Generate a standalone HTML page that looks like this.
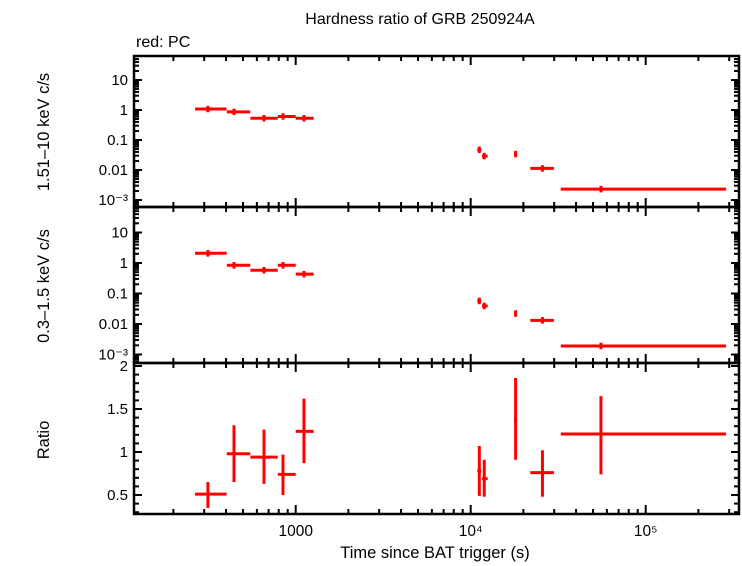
<!DOCTYPE html>
<html><head><meta charset="utf-8"><style>
html,body{margin:0;padding:0;background:#fff}
svg{display:block;font-family:"Liberation Sans",sans-serif}
</style></head><body>
<svg id="c" width="742" height="566" xmlns="http://www.w3.org/2000/svg">
<text x="420" y="24" font-size="16" text-anchor="middle">Hardness ratio of GRB 250924A</text>
<text x="136" y="47" font-size="16">red: PC</text>
<text transform="translate(49,132) rotate(-90)" font-size="16.5" text-anchor="middle">1.51–10 keV c/s</text>
<text transform="translate(49,286) rotate(-90)" font-size="16.5" text-anchor="middle">0.3–1.5 keV c/s</text>
<text transform="translate(49,440) rotate(-90)" font-size="16.5" text-anchor="middle">Ratio</text>
<text x="435" y="558" font-size="16.5" text-anchor="middle">Time since BAT trigger (s)</text>
</svg>
<script>
const tCenter=[315,444,659,846,1115,11200,11950,18060,25700,55500];
const tLo=[266,404,551,790,1000,10900,11600,17700,21900,32700];
const tHi=[403,550,790,1000,1267,11500,12500,18400,29900,288000];
const hardVals=[1.08,0.87,0.53,0.61,0.53,0.047,0.029,0.034,0.0113,0.0023];
const softVals=[2.08,0.84,0.58,0.84,0.43,0.057,0.039,0.022,0.0132,0.0019];
const ratioVals=[0.51,0.98,0.94,0.74,1.24,0.78,0.69,1.38,0.76,1.21];
const ratioLo=[0.35,0.65,0.63,0.50,0.87,0.49,0.48,0.91,0.48,0.74];
const ratioHi=[0.65,1.31,1.26,0.97,1.62,1.07,0.91,1.86,1.02,1.65];
const logTicks=[10,1,0.1,0.01,0.001];
const logTickLabels=["10","1","0.1","0.01","10⁻³"];
const ratioTicks=[0.5,1,1.5,2];
const ratioTickLabels=["0.5","1","1.5","2"];

const svg=document.getElementById('c');
const NS='http://www.w3.org/2000/svg';
const L=134,R=739;
const panels=[{top:56,bot:207},{top:207,bot:363},{top:363,bot:514}];
const x=t=>295.7+175*Math.log10(t/1000);
const yHard=v=>110-30*Math.log10(v);
const ySoft=v=>263-30.5*Math.log10(v);
const yRatio=r=>452-86*(r-1);
function el(tag,attrs){const e=document.createElementNS(NS,tag);for(const k in attrs)e.setAttribute(k,attrs[k]);svg.appendChild(e);return e;}
function line(x1,y1,x2,y2,col,w){return el('line',{x1,y1,x2,y2,stroke:col,'stroke-width':w});}

panels.forEach((p,i)=>{
  const r=el('rect',{x:L,y:p.top,width:R-L,height:p.bot-p.top,fill:'none',stroke:'#000','stroke-width':2.5});
  
  
  for(let d=100;d<=1e6;d*=10){for(let m=1;m<10;m++){const t=d*m;const xx=x(t);if(xx<L||xx>R)continue;const len=m===1?9:5;
    line(xx,p.top,xx,p.top+len,'#000',2);line(xx,p.bot,xx,p.bot-len,'#000',2);}}
});
[[yHard,panels[0]],[ySoft,panels[1]]].forEach(([yf,p],pi)=>{
  for(let e=-4;e<=2;e++){for(let m=1;m<10;m++){const v=m*Math.pow(10,e);const yy=yf(v);if(yy<p.top+1||yy>p.bot-1)continue;const len=m===1?8:5;
    line(L,yy,L+len,yy,'#000',2);line(R,yy,R-len,yy,'#000',2);}}
  logTicks.forEach((v,i)=>{const t=el('text',{x:L-6,y:yf(v)+5,'font-size':15,'text-anchor':'end'});t.textContent=logTickLabels[i];
    
    });
});
for(let r=0.3;r<=2.05;r+=0.1){const yy=yRatio(r);if(yy<363||yy>514)continue;const maj=Math.abs(r*2-Math.round(r*2))<0.01;const len=maj?8:5;
  line(L,yy,L+len,yy,'#000',2);line(R,yy,R-len,yy,'#000',2);}
ratioTicks.forEach((v,i)=>{const t=el('text',{x:L-6,y:yRatio(v)+5,'font-size':15,'text-anchor':'end'});t.textContent=ratioTickLabels[i];
  
  });
const xl=[[1000,"1000"],[1e4,"10⁴"],[1e5,"10⁵"]];
xl.forEach(([t,s])=>{const e=el('text',{x:x(t),y:536,'font-size':15.5,'text-anchor':'middle'});e.textContent=s;
  
  });
function drawPt(yf,xc,xlo,xhi,yc,ylo,yhi,name){
  const g=document.createElementNS(NS,'g');svg.appendChild(g);
  
  
  const a=document.createElementNS(NS,'line');a.setAttribute('x1',x(xlo));a.setAttribute('x2',x(xhi));a.setAttribute('y1',yf(yc));a.setAttribute('y2',yf(yc));a.setAttribute('stroke','#f00');a.setAttribute('stroke-width',3);g.appendChild(a);
  const b=document.createElementNS(NS,'line');b.setAttribute('x1',x(xc));b.setAttribute('x2',x(xc));b.setAttribute('y1',yf(ylo));b.setAttribute('y2',yf(yhi));b.setAttribute('stroke','#f00');b.setAttribute('stroke-width',3);g.appendChild(b);
}
for(let i=0;i<tCenter.length;i++){
  drawPt(yHard,tCenter[i],tLo[i],tHi[i],hardVals[i],hardVals[i]*0.78,hardVals[i]*1.28,'hard-point');
  drawPt(ySoft,tCenter[i],tLo[i],tHi[i],softVals[i],softVals[i]*0.78,softVals[i]*1.28,'soft-point');
  drawPt(yRatio,tCenter[i],tLo[i],tHi[i],ratioVals[i],ratioLo[i],ratioHi[i],'ratio-point');
}
</script>
</body></html>
